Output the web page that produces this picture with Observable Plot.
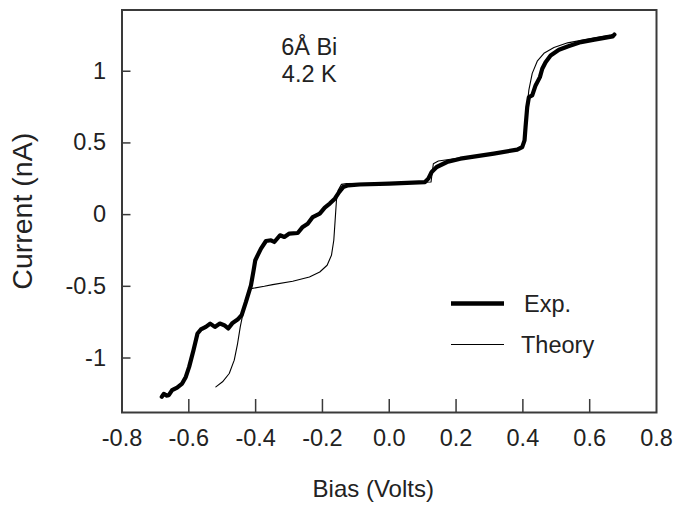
<!DOCTYPE html>
<html>
<head>
<meta charset="utf-8">
<script src="https://cdn.jsdelivr.net/npm/d3@7"></script>
<script src="https://cdn.jsdelivr.net/npm/@observablehq/plot@0.6"></script>
<style>
  html, body { margin: 0; padding: 0; background: #fff; }
  #chart { position: relative; width: 677px; height: 506px; }
</style>
</head>
<body>
<div id="chart"></div>
<script>
// ---- data ----
const expBias = [-0.681,-0.675,-0.667,-0.660,-0.650,-0.635,-0.620,-0.609,-0.599,-0.586,-0.574,-0.564,-0.549,-0.536,-0.522,-0.507,-0.494,-0.482,-0.469,-0.454,-0.442,-0.429,-0.414,-0.406,-0.401,-0.394,-0.384,-0.369,-0.354,-0.344,-0.327,-0.314,-0.299,-0.274,-0.259,-0.244,-0.229,-0.208,-0.193,-0.178,-0.163,-0.150,-0.138,-0.123,-0.088,0.000,0.107,0.117,0.127,0.142,0.173,0.213,0.313,0.383,0.398,0.405,0.408,0.413,0.418,0.428,0.438,0.451,0.458,0.468,0.483,0.508,0.534,0.574,0.614,0.644,0.669,0.674];
const expCurrent = [-1.271,-1.250,-1.262,-1.259,-1.224,-1.206,-1.178,-1.132,-1.062,-0.946,-0.829,-0.801,-0.783,-0.760,-0.783,-0.760,-0.771,-0.794,-0.755,-0.732,-0.702,-0.609,-0.493,-0.388,-0.318,-0.284,-0.237,-0.184,-0.179,-0.191,-0.144,-0.156,-0.132,-0.128,-0.086,-0.063,-0.017,0.007,0.049,0.077,0.111,0.157,0.192,0.204,0.210,0.216,0.227,0.251,0.297,0.332,0.367,0.390,0.425,0.453,0.471,0.518,0.610,0.750,0.820,0.831,0.901,0.959,1.017,1.063,1.110,1.150,1.173,1.203,1.220,1.233,1.242,1.256];

const theoryBias = [-0.519,-0.499,-0.479,-0.464,-0.454,-0.446,-0.439,-0.429,-0.419,-0.414,-0.374,-0.349,-0.289,-0.239,-0.208,-0.186,-0.173,-0.166,-0.162,-0.158,-0.153,-0.143,-0.128,0.000,0.125,0.132,0.147,0.173,0.213,0.313,0.383,0.398,0.404,0.410,0.418,0.428,0.443,0.463,0.493,0.534,0.594,0.664,0.674];
const theoryCurrent = [-1.201,-1.166,-1.108,-1.015,-0.899,-0.783,-0.702,-0.609,-0.528,-0.516,-0.500,-0.488,-0.465,-0.435,-0.400,-0.353,-0.284,-0.179,-0.040,0.100,0.169,0.211,0.216,0.220,0.227,0.355,0.374,0.383,0.397,0.428,0.455,0.470,0.540,0.700,0.870,0.985,1.070,1.125,1.165,1.198,1.224,1.254,1.260];

const xTickMarks = [-0.6,-0.4,-0.2,0,0.2,0.4,0.6];
const xTickLabels = [-0.8,-0.6,-0.4,-0.2,0,0.2,0.4,0.6,0.8];
const yTicks = [-1,-0.5,0,0.5,1];
const xDomain = [-0.8, 0.8];
const yDomain = [-1.38, 1.427];
const xTitle = "Bias (Volts)";
const yTitle = "Current (nA)";
const annotation = "6Å Bi\n4.2 K";
const legendItems = [{label: "Exp.", width: 4.5}, {label: "Theory", width: 1.1}];

const expData = expBias.map((b, i) => ({bias: b, current: expCurrent[i]}));
const theoryData = theoryBias.map((b, i) => ({bias: b, current: theoryCurrent[i]}));

const FONT = "Liberation Sans, Arial, Helvetica, sans-serif";
const TXT = "#222";
const AX = "#3a3a3a";
const fmt = d => (d < 0 ? "-" : "") + String(Math.abs(d));
const fmtX = d => (d < 0 ? "-" : "") + Math.abs(d).toFixed(1);

const chart = Plot.plot({
  width: 677,
  height: 506,
  marginLeft: 121.5,
  marginRight: 21,
  marginTop: 9.5,
  marginBottom: 94,
  style: {fontFamily: FONT, fontSize: "23px", color: TXT, background: "#fff"},
  x: {domain: xDomain, axis: null},
  y: {domain: yDomain, axis: null},
  marks: [
    // inward tick marks
    Plot.axisX(xTickMarks, {anchor: "bottom", tickSize: -13, text: null, label: null, stroke: AX, strokeWidth: 1.5}),
    Plot.axisY(yTicks, {anchor: "left", tickSize: -9, text: null, label: null, stroke: AX, strokeWidth: 1.5}),
    // tick labels
    Plot.axisX(xTickLabels, {anchor: "bottom", tickSize: 0, tickPadding: 17, tickFormat: fmtX, fill: TXT, fontSize: 23.5, label: null}),
    Plot.axisY(yTicks, {anchor: "left", tickSize: 0, tickPadding: 16, tickFormat: fmt, fill: TXT, fontSize: 23.5, label: null}),
    // axis titles
    Plot.text([xTitle], {frameAnchor: "bottom", textAnchor: "middle", dx: -16, dy: 84, fontSize: 24, fill: TXT}),
    Plot.text([yTitle], {frameAnchor: "left", textAnchor: "middle", dx: -99, rotate: -90, fontSize: 28.5, fill: TXT}),
    // annotation
    Plot.text([annotation], {frameAnchor: "top", lineAnchor: "top", dx: -80, dy: 26, fontSize: 23.5, lineHeight: 1.15, fill: TXT}),
    // data
    Plot.line(theoryData, {x: "bias", y: "current", stroke: "#000", strokeWidth: 1.1}),
    Plot.line(expData, {x: "bias", y: "current", stroke: "#000", strokeWidth: 4.2, strokeLinejoin: "round", strokeLinecap: "round"}),
    Plot.frame({stroke: AX, strokeWidth: 2})
  ]
});

document.getElementById("chart").appendChild(chart);

// legend drawn in pixel space on top of the plot SVG
const svg = d3.select(chart);
const lg = svg.append("g").attr("font-family", FONT).attr("font-size", 23.5).attr("fill", TXT).attr("text-anchor", "start");
const lgX = 451, lgLen = 53, lgY0 = 303.5, lgStep = 41;
legendItems.forEach((it, i) => {
  const y = lgY0 + i * lgStep;
  lg.append("line").attr("x1", lgX).attr("x2", lgX + lgLen).attr("y1", y).attr("y2", y)
    .attr("stroke", "#000").attr("stroke-width", it.width);
  lg.append("text").attr("x", lgX + lgLen + (i === 0 ? 20 : 17)).attr("y", y).attr("dy", "0.36em").text(it.label);
});
</script>
</body>
</html>
